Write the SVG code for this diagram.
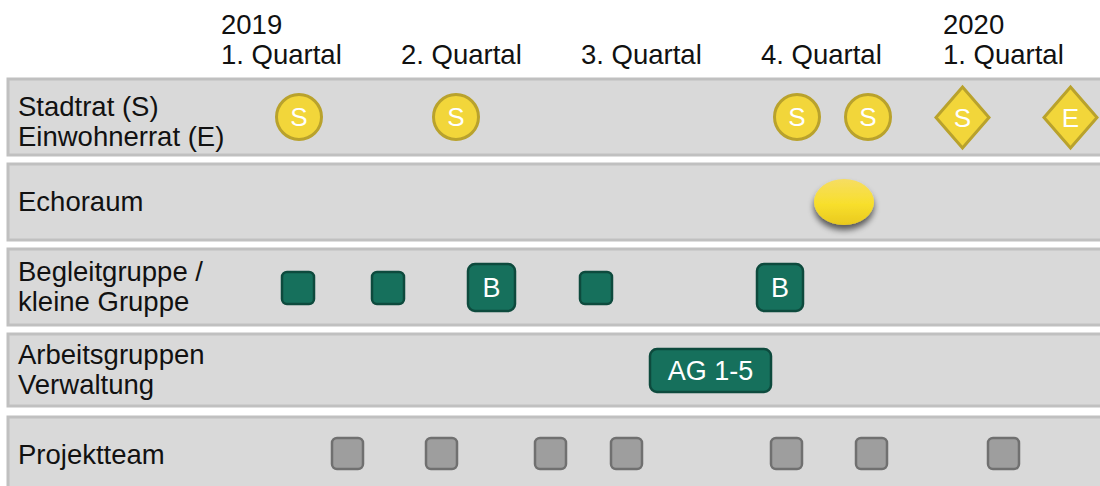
<svg xmlns="http://www.w3.org/2000/svg" width="1100" height="486" viewBox="0 0 1100 486">
<style>
text{font-family:"Liberation Sans",Arial,sans-serif;}
.hdr{font-size:27.5px;fill:#111;}
.lbl{font-size:27.5px;fill:#111;}
.lane{fill:#d9d9d9;stroke:#c0c0c0;stroke-width:3;}
.mk{fill:#f2d63a;stroke:#b9a22c;stroke-width:3;}
.mt{font-size:26px;fill:#fff;text-anchor:middle;}
.gs{fill:#16705c;stroke:#0d4a3d;stroke-width:2.5;}
.gt{font-size:27px;fill:#fff;text-anchor:middle;}
.ps{fill:#9e9e9e;stroke:#707070;stroke-width:2.5;}
</style>
<defs>
<linearGradient id="eg" x1="0" y1="0" x2="0" y2="1">
<stop offset="0" stop-color="#f6dd62"/>
<stop offset="0.55" stop-color="#f8df2c"/>
<stop offset="1" stop-color="#e9c91e"/>
</linearGradient>
<filter id="sh" x="-30%" y="-30%" width="160%" height="170%">
<feGaussianBlur in="SourceAlpha" stdDeviation="3"/>
<feOffset dx="0" dy="5" result="b"/>
<feComponentTransfer><feFuncA type="linear" slope="0.6"/></feComponentTransfer>
<feMerge><feMergeNode/><feMergeNode in="SourceGraphic"/></feMerge>
</filter>
</defs>
<g id="header">
<text class="hdr" x="221" y="34">2019</text>
<text class="hdr" x="221" y="64">1. Quartal</text>
<text class="hdr" x="401" y="64">2. Quartal</text>
<text class="hdr" x="581" y="64">3. Quartal</text>
<text class="hdr" x="761" y="64">4. Quartal</text>
<text class="hdr" x="943" y="34">2020</text>
<text class="hdr" x="943" y="64">1. Quartal</text>
</g>
<g id="lane-stadtrat">
<rect class="lane" x="8" y="79" width="1100" height="76"/>
<text class="lbl" x="18" y="116">Stadtrat (S)</text>
<text class="lbl" x="18" y="146">Einwohnerrat (E)</text>
</g>
<g id="lane-echoraum">
<rect class="lane" x="8" y="164" width="1100" height="76"/>
<text class="lbl" x="18" y="211">Echoraum</text>
</g>
<g id="lane-begleitgruppe">
<rect class="lane" x="8" y="249" width="1100" height="76"/>
<text class="lbl" x="18" y="281">Begleitgruppe /</text>
<text class="lbl" x="18" y="311">kleine Gruppe</text>
</g>
<g id="lane-arbeitsgruppen">
<rect class="lane" x="8" y="334" width="1100" height="72"/>
<text class="lbl" x="18" y="364">Arbeitsgruppen</text>
<text class="lbl" x="18" y="394">Verwaltung</text>
</g>
<g id="lane-projektteam">
<rect class="lane" x="8" y="417" width="1100" height="80"/>
<text class="lbl" x="18" y="464">Projektteam</text>
</g>
<g id="connectors"></g>
<g id="s1"><circle class="mk" cx="299" cy="117" r="22.5"/><text class="mt" x="299" y="126">S</text></g>
<g id="s2"><circle class="mk" cx="456" cy="117" r="22.5"/><text class="mt" x="456" y="126">S</text></g>
<g id="s3"><circle class="mk" cx="797" cy="117" r="22.5"/><text class="mt" x="797" y="126">S</text></g>
<g id="s4"><circle class="mk" cx="868" cy="117" r="22.5"/><text class="mt" x="868" y="126">S</text></g>
<g id="s5"><polygon class="mk" points="962.5,87 989,117.5 962.5,148 936,117.5"/><text class="mt" x="962.5" y="127">S</text></g>
<g id="e1"><polygon class="mk" points="1070.5,87 1097,117.5 1070.5,148 1044,117.5"/><text class="mt" x="1070.5" y="127">E</text></g>
<g id="echo"><ellipse cx="844" cy="202" rx="30" ry="23" fill="url(#eg)" filter="url(#sh)"/></g>
<g id="b1"><rect class="gs" x="282" y="272" width="32" height="32" rx="5"/></g>
<g id="b2"><rect class="gs" x="372" y="272" width="32" height="32" rx="5"/></g>
<g id="b3"><rect class="gs" x="468" y="264" width="47" height="47" rx="7"/><text class="gt" x="491.5" y="297">B</text></g>
<g id="b4"><rect class="gs" x="580" y="272" width="32" height="32" rx="5"/></g>
<g id="b5"><rect class="gs" x="757" y="264" width="46" height="47" rx="7"/><text class="gt" x="780" y="297">B</text></g>
<g id="ag"><rect class="gs" x="650" y="349" width="121" height="43" rx="7"/><text class="gt" x="710.5" y="380">AG 1-5</text></g>
<g id="p1"><rect class="ps" x="332" y="438" width="31" height="31" rx="5"/></g>
<g id="p2"><rect class="ps" x="426" y="438" width="31" height="31" rx="5"/></g>
<g id="p3"><rect class="ps" x="535" y="438" width="31" height="31" rx="5"/></g>
<g id="p4"><rect class="ps" x="611" y="438" width="31" height="31" rx="5"/></g>
<g id="p5"><rect class="ps" x="771" y="438" width="31" height="31" rx="5"/></g>
<g id="p6"><rect class="ps" x="856" y="438" width="31" height="31" rx="5"/></g>
<g id="p7"><rect class="ps" x="988" y="438" width="31" height="31" rx="5"/></g>
</svg>
